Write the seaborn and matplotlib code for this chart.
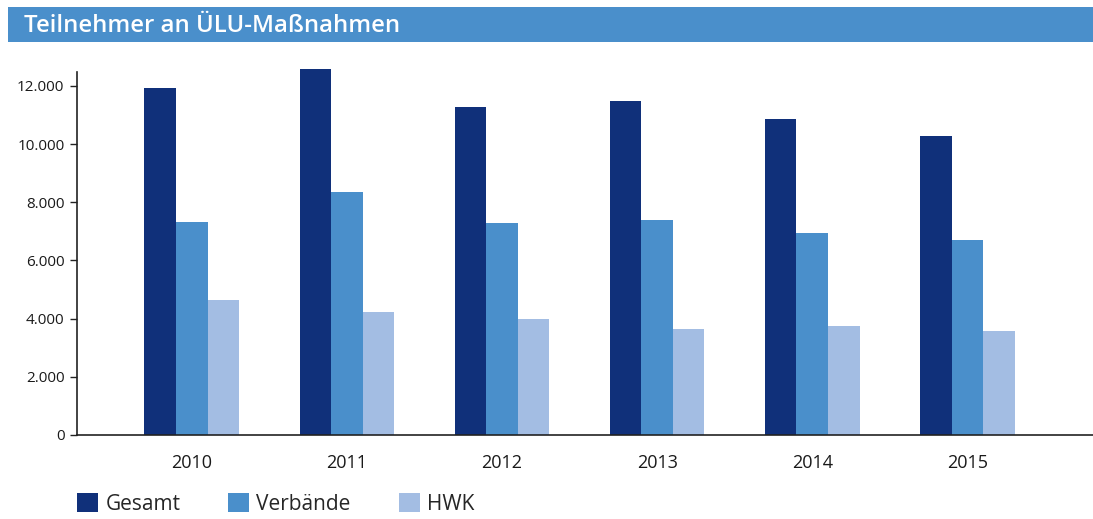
import matplotlib
matplotlib.use("Agg")
import matplotlib.pyplot as plt
import seaborn as sns
import pandas as pd
from matplotlib.patches import Rectangle, Patch
from matplotlib.ticker import FuncFormatter

years = ["2010", "2011", "2012", "2013", "2014", "2015"]
gesamt = [11930, 12580, 11280, 11490, 10870, 10280]
verbaende = [7320, 8360, 7290, 7390, 6950, 6710]
hwk = [4640, 4230, 3990, 3650, 3750, 3580]
series = ["Gesamt", "Verbände", "HWK"]
colors = ["#10307a", "#4a8fcb", "#a3bde3"]

df = pd.DataFrame({
    "Jahr": years * 3,
    "Serie": [series[0]] * 6 + [series[1]] * 6 + [series[2]] * 6,
    "Wert": gesamt + verbaende + hwk,
})

sns.set_theme(style="white")
plt.rcParams["font.family"] = ["Open Sans", "DejaVu Sans"]

fig = plt.figure(figsize=(10.93, 5.19), dpi=100)
ax = fig.add_axes([77 / 1093, 1 - 435 / 519, 1 - 77 / 1093, (435 - 72) / 519])

sns.barplot(data=df, x="Jahr", y="Wert", hue="Serie", palette=colors,
            width=0.61, gap=0, saturation=1, ax=ax, legend=False,
            linewidth=0, edgecolor="none")
for p in ax.patches:
    p.set_clip_on(False)

ax.set_xlim(-0.74, 5.81)
ax.set_ylim(0, 12480)
ax.set_yticks([0, 2000, 4000, 6000, 8000, 10000, 12000])
ax.yaxis.set_major_formatter(FuncFormatter(lambda v, p: f"{int(v):,}".replace(",", ".")))
ax.set_xlabel("")
ax.set_ylabel("")
for s in ["top", "right"]:
    ax.spines[s].set_visible(False)
for s in ["left", "bottom"]:
    ax.spines[s].set_color("#222222")
    ax.spines[s].set_linewidth(1.2)
    ax.spines[s].set_zorder(5)
ax.tick_params(axis="y", left=True, length=5, width=1, color="#222222",
               labelsize=11, labelcolor="#1a1a1a", pad=4)
ax.tick_params(axis="x", bottom=False, labelsize=13, labelcolor="#1a1a1a", pad=8)

# Title banner
fig.patches.append(Rectangle((8 / 1093, 1 - 42 / 519), 1 - 8 / 1093, 35 / 519,
                             transform=fig.transFigure, facecolor="#4a8fcb",
                             edgecolor="none", zorder=0))
fig.text(24 / 1093, 1 - 26 / 519, "Teilnehmer an ÜLU-Maßnahmen", color="white",
         fontsize=17.2, fontweight="semibold", va="center", ha="left")

handles = [Patch(facecolor=c, edgecolor="none") for c in colors]
fig.legend(handles, series, loc="lower left", bbox_to_anchor=(69 / 1093, -0.008),
           ncol=3, frameon=False, fontsize=15, handlelength=1.0, handleheight=1.0,
           handletextpad=0.35, columnspacing=2.3, borderaxespad=0)

fig.savefig("out.png", dpi=100)
